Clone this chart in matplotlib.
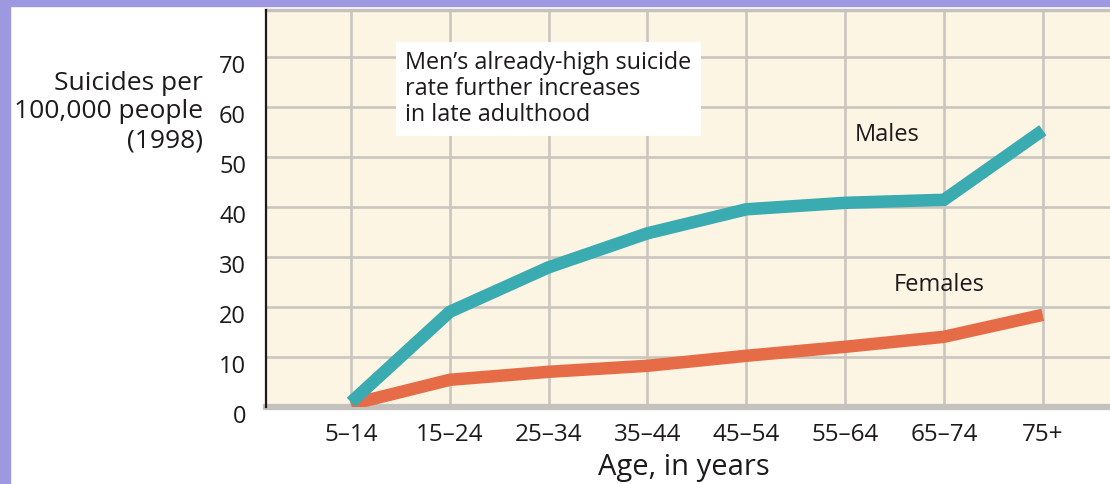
import matplotlib
matplotlib.use("Agg")
import matplotlib.pyplot as plt
from matplotlib.patches import Rectangle
from matplotlib.transforms import ScaledTranslation

plt.rcParams['font.family'] = ['Open Sans', 'DejaVu Sans']

age_groups = ["5–14", "15–24", "25–34", "35–44", "45–54", "55–64", "65–74", "75+"]
males = [1.0, 19.1, 28.0, 34.8, 39.6, 40.9, 41.5, 55.4]
females = [0.6, 5.5, 7.1, 8.3, 10.3, 12.1, 14.1, 18.5]
y_ticks = [0, 10, 20, 30, 40, 50, 60, 70]

ink = "#1c1a1b"

W, H = 1110, 484
fig = plt.figure(figsize=(W / 100, H / 100), dpi=100)
fig.patch.set_facecolor("white")

# lavender frame along the top and left edges
lav = "#9d98e0"
fig.patches.append(Rectangle((0, 0), 10 / W, 1, transform=fig.transFigure, color=lav, zorder=0))
fig.patches.append(Rectangle((0, 1 - 6 / H), 1, 6 / H, transform=fig.transFigure, color=lav, zorder=0))

left, right, top, bottom = 265.5, 1110, 10, 407.3
ax = fig.add_axes([left / W, 1 - bottom / H, (right - left) / W, (bottom - top) / H])
ax.set_facecolor("#fdf5e4")

x = list(range(len(age_groups)))
ax.plot(x, males, color="#3aabb0", lw=9, solid_capstyle="butt", solid_joinstyle="miter", zorder=4)
ax.plot(x, females, color="#e66c47", lw=9, solid_capstyle="butt", solid_joinstyle="miter", zorder=3)

ax.set_xlim(-0.865, 7.68)
ax.set_ylim(0, 79.46)
ax.set_xticks(x)
ax.set_xticklabels(age_groups, fontsize=17.5, color=ink)
ax.set_yticks(y_ticks)
ax.set_yticklabels([str(v) for v in y_ticks], fontsize=17, color=ink)
ax.tick_params(length=0, pad=14)
ax.tick_params(axis="x", pad=11)
for lbl in ax.get_yticklabels():
    lbl.set_transform(lbl.get_transform() + ScaledTranslation(0, -5 / 72, fig.dpi_scale_trans))

ax.grid(True, color="#c9c6c0", lw=1.9, zorder=1)
ax.set_axisbelow(True)

ax.spines["right"].set_visible(False)
ax.spines["top"].set_color("#c4c2bf")
ax.spines["top"].set_linewidth(2.5)
ax.spines["bottom"].set_color("#c4c2bf")
ax.spines["bottom"].set_linewidth(4.5)
ax.spines["left"].set_color(ink)
ax.spines["left"].set_linewidth(1.6)
ax.spines["left"].set_zorder(5)

ax.text(0.55, 63.7, "Men’s already-high suicide\nrate further increases\nin late adulthood",
        fontsize=16.8, color=ink, va="center", ha="left", linespacing=1.1, zorder=6,
        bbox=dict(boxstyle="square,pad=0.4", fc="white", ec="none"))

ax.text(5.43, 54.5, "Males", fontsize=17, color=ink, ha="center", va="center", zorder=6)
ax.text(5.95, 24.5, "Females", fontsize=17, color=ink, ha="center", va="center", zorder=6)

fig.text(203 / W, 1 - 112 / H, "Suicides per\n100,000 people\n(1998)", fontsize=19,
         color=ink, ha="right", va="center", multialignment="right", linespacing=1.2)
fig.text(684 / W, 1 - 467 / H, "Age, in years", fontsize=21, color=ink,
         ha="center", va="center")

fig.savefig("out.png", dpi=100)
